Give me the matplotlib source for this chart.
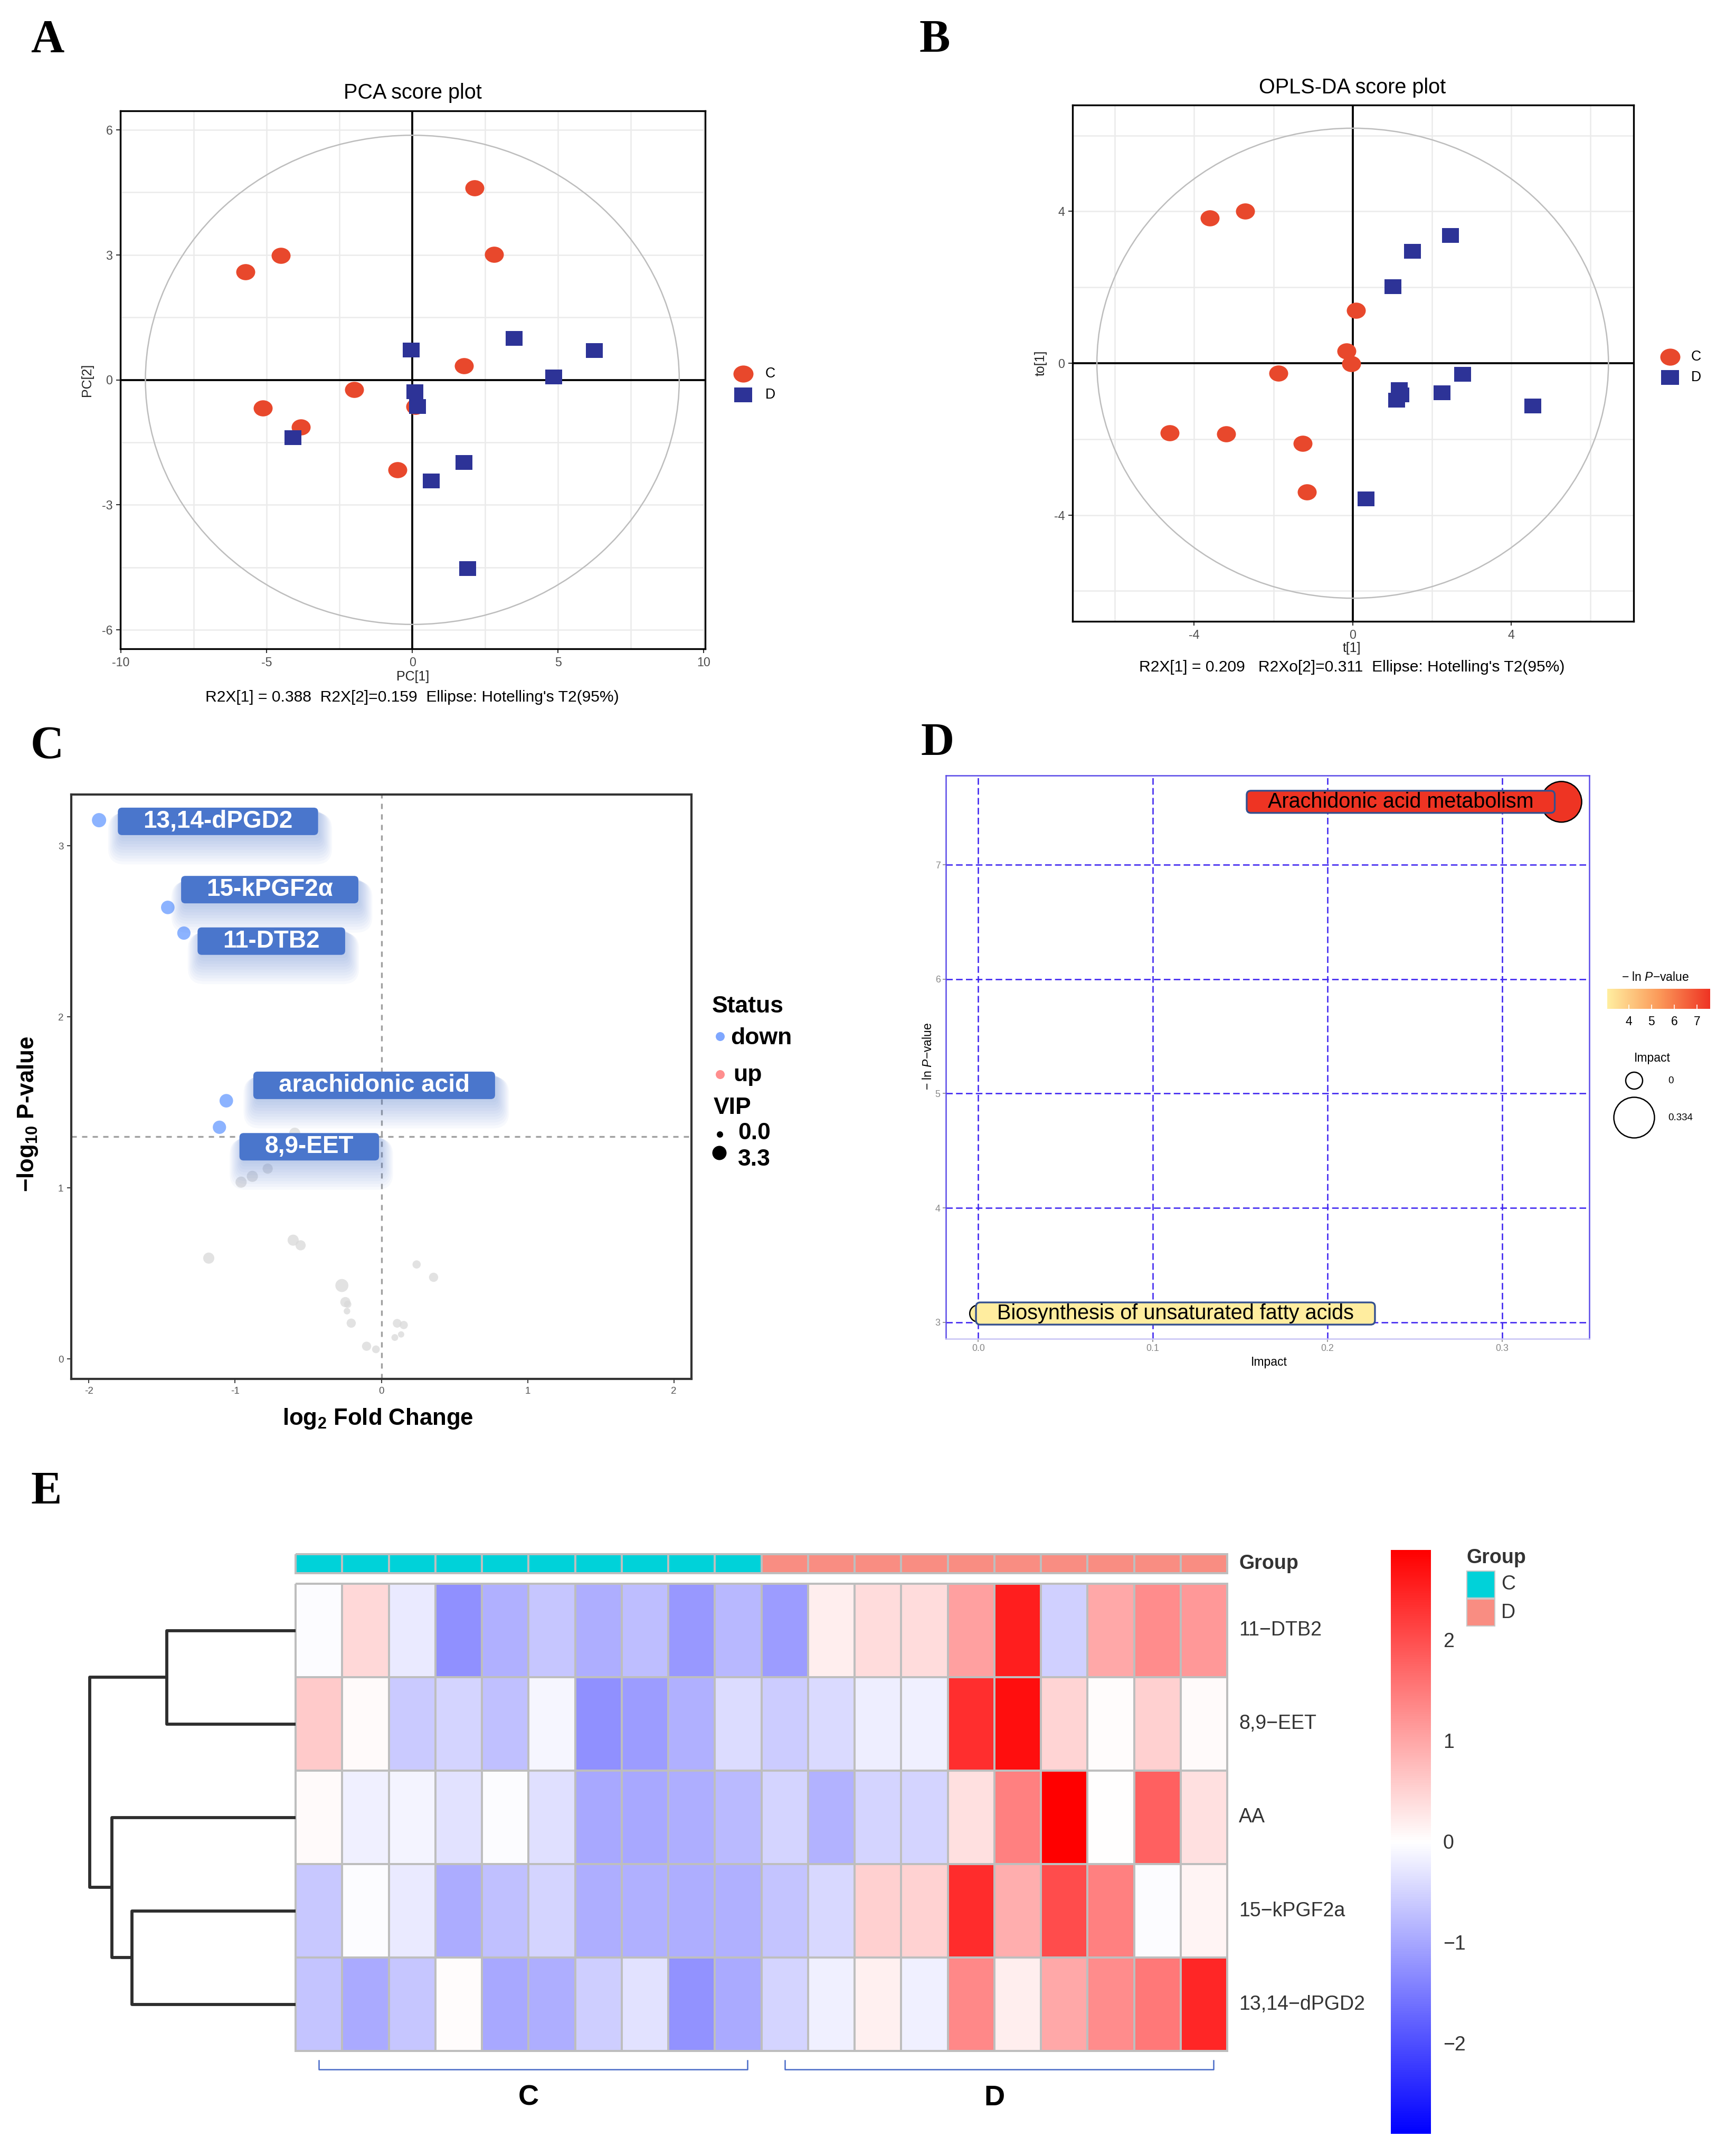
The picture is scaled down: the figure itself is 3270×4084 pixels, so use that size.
import numpy as np
import matplotlib
matplotlib.use('Agg')
import matplotlib.pyplot as plt
from matplotlib.patches import Ellipse, FancyBboxPatch, Rectangle
from matplotlib.colors import LinearSegmentedColormap, Normalize, ListedColormap
from matplotlib.path import Path
from matplotlib.transforms import Affine2D, IdentityTransform
from matplotlib.cm import ScalarMappable

plt.rcParams['font.family'] = ['Liberation Sans', 'DejaVu Sans']
plt.rcParams['mathtext.fontset'] = 'custom'
plt.rcParams['mathtext.rm'] = 'Liberation Sans'
plt.rcParams['mathtext.it'] = 'Liberation Sans:italic'
plt.rcParams['mathtext.bf'] = 'Liberation Sans:bold'
plt.rcParams['axes.unicode_minus'] = False

# ---------------- data ----------------
# A: PCA scores
pca_c_x = [2.13, 2.80, -4.52, -5.72, 1.77, -2.00, -5.13, -3.83, 0.10, -0.51]
pca_c_y = [4.60, 3.01, 2.98, 2.59, 0.34, -0.24, -0.68, -1.13, -0.64, -2.16]
pca_d_x = [-0.04, 3.49, 6.24, 4.85, 0.08, 0.17, -4.10, 1.77, 0.65, 1.89]
pca_d_y = [0.71, 0.99, 0.70, 0.07, -0.29, -0.64, -1.38, -1.98, -2.42, -4.53]
pca_ellipse = (18.32, 11.73)
pca_caption = "R2X[1] = 0.388  R2X[2]=0.159  Ellipse: Hotelling's T2(95%)"

# B: OPLS-DA scores
opls_c_x = [-3.60, -2.72, 0.08, -0.16, -0.04, -1.87, -4.62, -3.19, -1.26, -1.15]
opls_c_y = [3.82, 4.01, 1.39, 0.32, -0.02, -0.27, -1.84, -1.87, -2.11, -3.39]
opls_d_x = [2.47, 1.51, 1.02, 2.78, 1.18, 1.22, 1.11, 2.25, 4.54, 0.34]
opls_d_y = [3.37, 2.95, 2.02, -0.29, -0.70, -0.84, -0.98, -0.78, -1.13, -3.58]
opls_ellipse = (12.91, 12.38)
opls_caption = "R2X[1] = 0.209   R2Xo[2]=0.311  Ellipse: Hotelling's T2(95%)"

# C: volcano
volc_fc = [-1.93, -1.46, -1.35, -1.06, -1.107,
           -1.18, -0.603, -0.552, -0.270, -0.246, -0.230, -0.235, -0.206, -0.101, -0.037,
           0.108, 0.153, 0.092, 0.135, 0.241, 0.357, -0.959, -0.882, -0.777, -0.592]
volc_logp = [3.15, 2.64, 2.49, 1.51, 1.355,
             0.59, 0.695, 0.665, 0.43, 0.333, 0.32, 0.28, 0.21, 0.075, 0.057,
             0.209, 0.199, 0.126, 0.144, 0.553, 0.478, 1.034, 1.068, 1.113, 1.32]
volc_vip = [3.3, 3.0, 2.9, 3.0, 2.9,
            2.0, 2.0, 1.6, 2.8, 1.6, 0.4, 0.1, 1.2, 1.2, 0.6,
            1.0, 0.8, 0.2, 0.0, 0.8, 1.2, 2.0, 2.0, 1.6, 2.0]
volc_status = ['down'] * 5 + ['ns'] * 20
volc_labels = ['13,14-dPGD2', '15-kPGF2\u03b1', '11-DTB2', 'arachidonic acid', '8,9-EET']
volc_label_x = [-1.117, -0.763, -0.752, -0.049, -0.493]
volc_label_y = [3.143, 2.744, 2.443, 1.600, 1.241]
p_threshold = 0.05

# D: pathway
path_names = ['Arachidonic acid metabolism', 'Biosynthesis of unsaturated fatty acids']
path_impact = [0.334, 0.0]
path_neglnp = [7.55, 3.077]
path_label_x = [0.242, 0.113]

# E: heatmap (row z-scores)
heat_rows = ['11\u2212DTB2', '8,9\u2212EET', 'AA', '15\u2212kPGF2a', '13,14\u2212dPGD2']
heat_groups = ['C'] * 10 + ['D'] * 10
heat_dtb2 = [-0.05, 0.44, -0.24, -1.27, -0.90, -0.66, -0.92, -0.75, -1.17, -0.81,
             -1.13, 0.19, 0.40, 0.40, 1.08, 2.53, -0.53, 0.99, 1.30, 1.17]
heat_eet = [0.60, 0.05, -0.60, -0.48, -0.72, -0.11, -1.26, -1.13, -0.90, -0.40,
            -0.59, -0.42, -0.19, -0.18, 2.35, 2.71, 0.48, 0.03, 0.53, 0.05]
heat_aa = [0.05, -0.17, -0.14, -0.33, -0.05, -0.35, -0.99, -0.99, -0.93, -0.78,
           -0.48, -0.88, -0.48, -0.50, 0.35, 1.44, 2.89, 0.00, 1.80, 0.35]
heat_kpgf = [-0.63, -0.04, -0.24, -0.94, -0.72, -0.48, -0.91, -0.90, -0.93, -0.90,
             -0.68, -0.44, 0.53, 0.50, 2.39, 0.90, 2.03, 1.44, -0.03, 0.11]
heat_dpgd = [-0.68, -0.97, -0.66, 0.02, -0.99, -0.92, -0.56, -0.33, -1.24, -0.97,
             -0.48, -0.17, 0.17, -0.17, 1.35, 0.19, 0.99, 1.30, 1.53, 2.44]
# dendrogram merges: (left, right, height, name)
dend_links = [(0, 1, 92, 'a'), (3, 4, 117, 'b'), (2, 'b', 131, 'c'), ('a', 'c', 147, 'r')]
heat_range = (-2.9, 2.89)
heat_ticks = [-2, -1, 0, 1, 2]

# ---------------- figure ----------------
W, H = 3270, 4084
DPI = 300
fig = plt.figure(figsize=(W / DPI, H / DPI), dpi=DPI)


def rect(l, t, r, b):
    return [l / W, 1 - b / H, (r - l) / W, (b - t) / H]


def pt(px):
    return px * 72.0 / DPI


ov = fig.add_axes([0, 0, 1, 1], zorder=10)
ov.set_xlim(0, W)
ov.set_ylim(H, 0)
ov.axis('off')

C_RED = '#E8482C'
D_BLUE = '#2D3397'
circ_marker = Path.unit_circle().transformed(Affine2D().scale(1.0, 0.85))
sq_marker = Path([(-1, -0.85), (1, -0.85), (1, 0.85), (-1, 0.85), (-1, -0.85)],
                 [Path.MOVETO, Path.LINETO, Path.LINETO, Path.LINETO, Path.CLOSEPOLY])

# panel letters
for lab, x, y in [('A', 58, 98), ('B', 1742, 98), ('C', 58, 1436), ('D', 1745, 1430), ('E', 59, 2848)]:
    ov.text(x, y, lab, fontsize=21, fontweight='bold', family='Liberation Serif',
            ha='left', va='baseline')


def score_axes(ax, cx, cy, dx, dy, ell, xlim, ylim, xmaj, xmin, ymaj, ymin):
    ax.set_xlim(*xlim)
    ax.set_ylim(*ylim)
    ax.set_xticks(xmaj)
    ax.set_yticks(ymaj)
    ax.set_xticks(xmin, minor=True)
    ax.set_yticks(ymin, minor=True)
    ax.grid(which='both', color='#EBEBEB', lw=0.6)
    ax.set_axisbelow(True)
    ax.tick_params(which='minor', length=0)
    ax.tick_params(which='major', length=2, width=0.5, color='#333333',
                   labelsize=5.6, labelcolor='#4D4D4D', pad=1.5)
    for s in ax.spines.values():
        s.set_linewidth(0.8)
        s.set_color('black')
    ax.axhline(0, color='black', lw=0.9, zorder=2)
    ax.axvline(0, color='black', lw=0.9, zorder=2)
    ax.add_patch(Ellipse((0, 0), ell[0], ell[1], fill=False, ec='#BDBDBD', lw=0.6, zorder=2))
    ax.scatter(cx, cy, marker=circ_marker, s=pt(36) ** 2, c=C_RED, lw=0, zorder=3)
    ax.scatter(dx, dy, marker=sq_marker, s=pt(32) ** 2, c=D_BLUE, lw=0, zorder=4)


# ---- A ----
axA = fig.add_axes(rect(228, 210, 1336, 1229))
score_axes(axA, pca_c_x, pca_c_y, pca_d_x, pca_d_y, pca_ellipse, (-10.02, 10.05), (-6.45, 6.45),
           [-10, -5, 0, 5, 10], [-7.5, -2.5, 2.5, 7.5], [-6, -3, 0, 3, 6], [-4.5, -1.5, 1.5, 4.5])
ov.text(782, 176, 'PCA score plot', fontsize=9.5, ha='center', va='center')
ov.text(782, 1282, 'PC[1]', fontsize=6, ha='center', va='center', color='#222222')
ov.text(165, 720, 'PC[2]', fontsize=6, ha='center', va='center', rotation=90, color='#222222')
ov.text(781, 1321, pca_caption, fontsize=7.2, ha='center', va='center')
ov.scatter([1408], [708], marker=circ_marker, s=pt(38) ** 2, c=C_RED, lw=0)
ov.scatter([1408], [748], marker=sq_marker, s=pt(34) ** 2, c=D_BLUE, lw=0)
ov.text(1450, 708, 'C', fontsize=6.4, va='center')
ov.text(1450, 748, 'D', fontsize=6.4, va='center')

# ---- B ----
axB = fig.add_axes(rect(2032, 199, 3095, 1177))
score_axes(axB, opls_c_x, opls_c_y, opls_d_x, opls_d_y, opls_ellipse, (-7.07, 7.09), (-6.8, 6.8),
           [-4, 0, 4], [-6, -2, 2, 6], [-4, 0, 4], [-6, -2, 2, 6])
ov.text(2562, 166, 'OPLS-DA score plot', fontsize=9.5, ha='center', va='center')
ov.text(2561, 1228, 't[1]', fontsize=6, ha='center', va='center', color='#222222')
ov.text(1972, 688, 'to[1]', fontsize=6, ha='center', va='center', rotation=90, color='#222222')
ov.text(2561, 1264, opls_caption, fontsize=7.2, ha='center', va='center')
ov.scatter([3164], [676], marker=circ_marker, s=pt(38) ** 2, c=C_RED, lw=0)
ov.scatter([3164], [715], marker=sq_marker, s=pt(34) ** 2, c=D_BLUE, lw=0)
ov.text(3204, 676, 'C', fontsize=6.4, va='center')
ov.text(3204, 715, 'D', fontsize=6.4, va='center')

# ---- C ----
axC = fig.add_axes(rect(135, 1505, 1310, 2612))
axC.set_xlim(-2.12, 2.12)
axC.set_ylim(-0.116, 3.30)
axC.set_xticks([-2, -1, 0, 1, 2])
axC.set_yticks([0, 1, 2, 3])
axC.tick_params(length=2, width=0.5, color='#444444', labelsize=4.5, labelcolor='#555555', pad=1.5)
for s in axC.spines.values():
    s.set_linewidth(1.0)
    s.set_color('#333333')
thr = -np.log10(p_threshold)
axC.axvline(0, color='#A0A0A0', lw=0.8, ls=(0, (3, 3)), zorder=1)
axC.axhline(thr, color='#A0A0A0', lw=0.8, ls=(0, (3, 3)), zorder=1)


def vip_size(v):
    return pt(12 + 15 * np.asarray(v) / 3.3) ** 2


fc = np.array(volc_fc)
lp = np.array(volc_logp)
vip = np.array(volc_vip)
st = np.array(volc_status)
ns = st == 'ns'
dn = st == 'down'
axC.scatter(fc[ns], lp[ns], s=vip_size(vip[ns]), c='#D9D9D9', alpha=0.75, lw=0, zorder=2)
axC.scatter(fc[dn], lp[dn], s=vip_size(vip[dn]), c='#8CB3FF', lw=0, zorder=3)
volc_texts = []
for name, x, y in zip(volc_labels, volc_label_x, volc_label_y):
    t = axC.text(x, y, name, fontsize=11, fontweight='bold', color='white',
                 ha='center', va='center', zorder=8)
    volc_texts.append(t)
ov.text(53, 2110, r'$\mathbf{-log_{10}}$ P-value', fontsize=10.5, fontweight='bold',
        rotation=90, ha='center', va='center')
ov.text(716, 2688, r'$\mathbf{log_2}$ Fold Change', fontsize=10.5, fontweight='bold',
        ha='center', va='center')
# legend
ov.text(1349, 1918, 'Status', fontsize=10.7, fontweight='bold', va='baseline')
ov.scatter([1364], [1963], s=pt(17) ** 2, c='#7FA7FF', lw=0)
ov.text(1384, 1978, 'down', fontsize=10.7, fontweight='bold', va='baseline')
ov.scatter([1364], [2035], s=pt(17) ** 2, c='#FF8E8E', lw=0)
ov.text(1389, 2048, 'up', fontsize=10.7, fontweight='bold', va='baseline')
ov.text(1352, 2110, 'VIP', fontsize=10.7, fontweight='bold', va='baseline')
ov.scatter([1364, 1363], [2149, 2184], s=vip_size([0.0, 3.3]), c='black', lw=0)
ov.text(1398, 2158, '0.0', fontsize=10.7, fontweight='bold', va='baseline')
ov.text(1398, 2208, '3.3', fontsize=10.7, fontweight='bold', va='baseline')

# ---- D ----
axD = fig.add_axes(rect(1792, 1469, 3011, 2536))
axD.set_xlim(-0.0185, 0.35)
axD.set_ylim(2.856, 7.78)
axD.set_xticks([0, 0.1, 0.2, 0.3])
axD.set_xticklabels(['0.0', '0.1', '0.2', '0.3'])
axD.set_yticks([3, 4, 5, 6, 7])
axD.tick_params(length=1.5, width=0.4, color='#888888', labelsize=4.3, labelcolor='#888888', pad=1)
axD.grid(True, color='#3A20F0', lw=0.6, ls=(0, (5, 2.5)))
axD.set_axisbelow(True)
for k, s in axD.spines.items():
    s.set_linewidth(0.6)
    s.set_color('#C8C3F5' if k == 'bottom' else '#5B4BE8')
path_cmap = LinearSegmentedColormap.from_list('pv', ['#FFEEA0', '#FB9A5A', '#EE3323'])
path_norm = Normalize(3.05, 7.58)


def impact_size(v):
    return pt(32 + 45 * np.asarray(v) / 0.334) ** 2


path_cols = path_cmap(path_norm(np.array(path_neglnp)))
axD.scatter(path_impact, path_neglnp, s=impact_size(path_impact), c=path_cols,
            edgecolors='black', lw=0.6, zorder=3, clip_on=False)
path_texts = []
for name, x, y in zip(path_names, path_label_x, path_neglnp):
    t = axD.text(x, y, name, fontsize=9.5, color='black', ha='center', va='center', zorder=8)
    path_texts.append(t)
ov.text(2404, 2580, 'Impact', fontsize=5.5, ha='center', va='center')
ov.text(1759, 2001, '\u2212 ln $P$\u2212value', fontsize=5.5, ha='center', va='center', rotation=90)
# legend
ov.text(3072, 1852, '\u2212 ln $P$\u2212value', fontsize=5.5, ha='left', va='center')
caxD = fig.add_axes(rect(3045, 1873, 3240, 1911))
cbD = fig.colorbar(ScalarMappable(norm=path_norm, cmap=path_cmap), cax=caxD, orientation='horizontal')
cbD.outline.set_visible(False)
cbD.set_ticks([4, 5, 6, 7])
caxD.tick_params(axis='x', direction='in', length=2, width=0.4, color='white', labelsize=5.5, pad=3)
ov.text(3130, 2004, 'Impact', fontsize=5.5, ha='center', va='center')
ov.scatter([3096, 3096], [2047, 2117], s=impact_size([0.0, 0.334]), facecolors='white',
           edgecolors='black', lw=0.6)
ov.text(3160, 2047, '0', fontsize=4.5, va='center')
ov.text(3160, 2117, '0.334', fontsize=4.5, va='center')

# ---- E ----
M = np.array([heat_dtb2, heat_eet, heat_aa, heat_kpgf, heat_dpgd])
heat_cmap = LinearSegmentedColormap.from_list('bwr2', ['#0000FF', '#FFFFFF', '#FF0000'])
heat_norm = Normalize(*heat_range)
axH = fig.add_axes(rect(560, 3000, 2325, 3885))
mesh = axH.pcolormesh(np.arange(M.shape[1] + 1), np.arange(M.shape[0] + 1), M, cmap=heat_cmap,
                      norm=heat_norm, edgecolors='#BEBEBE', linewidth=0.9)
mesh.set_clip_on(False)
axH.set_xlim(0, M.shape[1])
axH.set_ylim(M.shape[0], 0)
axH.axis('off')
for i, name in enumerate(heat_rows):
    axH.text(M.shape[1] + 0.25, i + 0.5, name, fontsize=9, color='#333333', va='center', ha='left')

grp_colors = {'C': '#00D2D9', 'D': '#F98D82'}
grp_levels = ['C', 'D']
axG = fig.add_axes(rect(560, 2944, 2325, 2980))
gm = axG.pcolormesh(np.arange(len(heat_groups) + 1), [0, 1],
                    np.array([[grp_levels.index(g) for g in heat_groups]]),
                    cmap=ListedColormap([grp_colors[g] for g in grp_levels]), vmin=-0.5, vmax=1.5,
                    edgecolors='#BEBEBE', linewidth=0.9)
gm.set_clip_on(False)
axG.set_xlim(0, len(heat_groups))
axG.set_ylim(1, 0)
axG.axis('off')
axG.text(len(heat_groups) + 0.25, 0.5, 'Group', fontsize=9, fontweight='bold', color='#333333',
         va='center', ha='left')

# brackets
for g in grp_levels:
    idx = [i for i, v in enumerate(heat_groups) if v == g]
    a, b = idx[0] + 0.5, idx[-1] + 1 - 0.3
    axH.plot([a, a, b, b], [5.1, 5.2, 5.2, 5.1], color='#4A6CC8', lw=0.6, clip_on=False)
    axH.text((idx[0] + idx[-1] + 1) / 2, 5.5, g, fontsize=13, fontweight='bold', ha='center',
             va='center', clip_on=False)

# dendrogram
axDen = fig.add_axes(rect(140, 3000, 560, 3885))
node = {i: (0, i + 0.5) for i in range(M.shape[0])}
for l, r, h, nm in dend_links:
    hl, yl = node[l]
    hr, yr = node[r]
    axDen.plot([hl, h, h, hr], [yl, yl, yr, yr], color='#2E2E2E', lw=1.4, solid_capstyle='butt')
    node[nm] = (h, (yl + yr) / 2)
axDen.set_xlim(158.3, 0)
axDen.set_ylim(M.shape[0], 0)
axDen.axis('off')

# colorbar
caxE = fig.add_axes(rect(2635, 2936, 2711, 4042))
cbE = fig.colorbar(ScalarMappable(norm=heat_norm, cmap=heat_cmap), cax=caxE)
cbE.outline.set_visible(False)
cbE.set_ticks(heat_ticks)
cbE.set_ticklabels([('\u2212%d' % -v) if v < 0 else '%d' % v for v in heat_ticks])
caxE.tick_params(length=0, labelsize=9, labelcolor='#333333', pad=5.5)

# group legend
ov.text(2779, 2951, 'Group', fontsize=9, fontweight='bold', color='#333333', va='center')
for k, g in enumerate(grp_levels):
    ov.add_patch(Rectangle((2779, 2976 + k * 53), 53, 51, fc=grp_colors[g], ec='#C8C8C8', lw=0.5))
    ov.text(2844, 3001 + k * 54, g, fontsize=9, color='#333333', va='center')

# ---------------- label boxes (need text extents) ----------------
fig.canvas.draw()
renderer = fig.canvas.get_renderer()


def add_box(ax, txt, padx, pady, fc, ec, lw, rnd, shadow=False, z=6):
    bb = txt.get_window_extent(renderer)
    x0, y0 = bb.x0 - padx, bb.y0 - pady
    w, h = bb.width + 2 * padx, bb.height + 2 * pady
    if shadow:
        for k in range(10):
            grow = 2.5 * k
            off = 6 + 3.0 * k
            ax.add_patch(FancyBboxPatch((x0 - grow + 4, y0 - off - grow), w + 2 * grow, h + 2 * grow,
                                        boxstyle='round,pad=0,rounding_size=%g' % (rnd + grow),
                                        transform=IdentityTransform(), fc=fc, ec='none',
                                        alpha=0.04, zorder=z - 1))
    ax.add_patch(FancyBboxPatch((x0, y0), w, h, boxstyle='round,pad=0,rounding_size=%g' % rnd,
                                transform=IdentityTransform(), fc=fc, ec=ec, lw=lw, zorder=z))


for t in volc_texts:
    add_box(axC, t, 48, 4, '#4A76CC', 'none', 0, 8, shadow=True)
for t, c in zip(path_texts, path_cols):
    add_box(axD, t, 40, 2, c, '#34508F', 0.8, 8)

fig.savefig('out.png', dpi=DPI)
